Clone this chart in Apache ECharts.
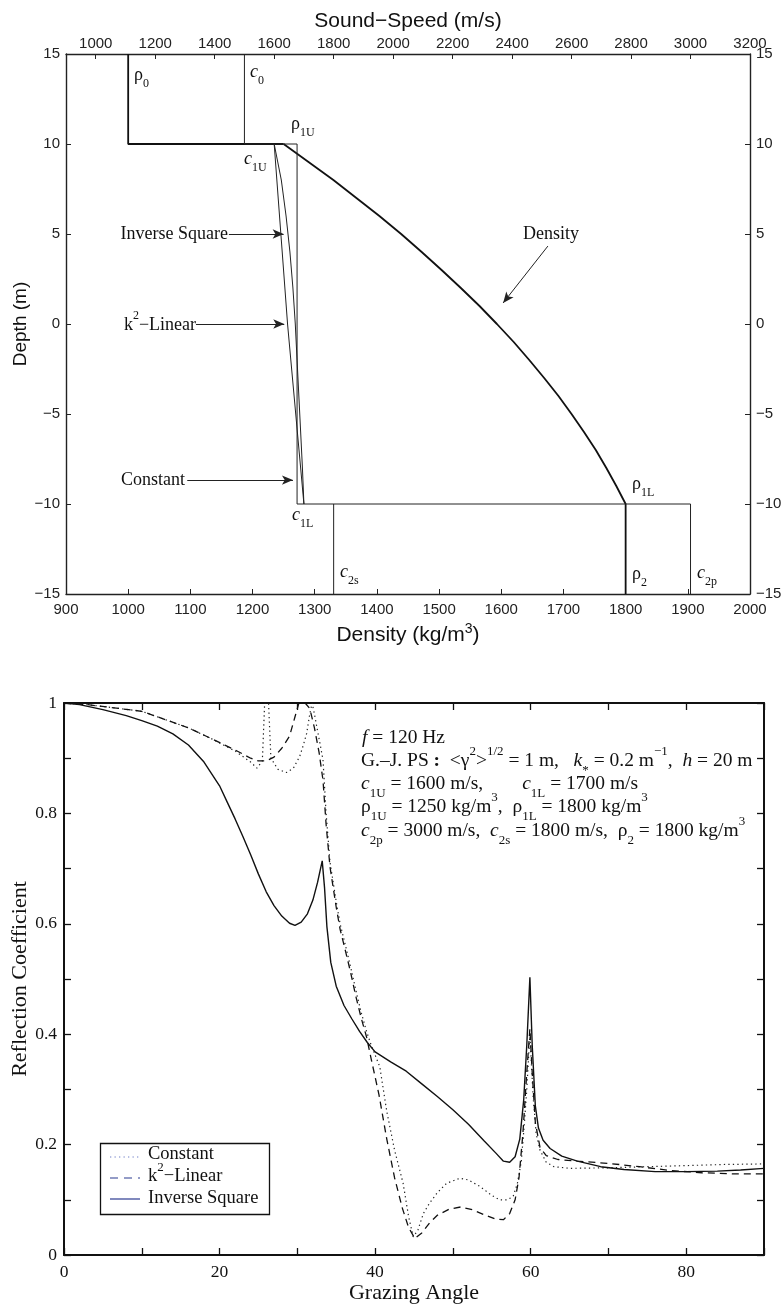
<!DOCTYPE html>
<html><head><meta charset="utf-8">
<script src="https://cdn.jsdelivr.net/npm/echarts@6/dist/echarts.min.js"></script>
<style>html,body{margin:0;padding:0;background:#fff}#c{width:782px;height:1305px}</style>
</head><body><div id="c"></div>
<script>
// ===== Top panel: profiles =====
const soundSpeedTicks = [1000,1200,1400,1600,1800,2000,2200,2400,2600,2800,3000,3200];

const densityStepDepth = [15,10,10];
const densityStepValue = [1000,1000,1250];
const densityCurveDepth = [10,9,8,7,6,5,4,3,2,1,0,-1,-2,-3,-4,-5,-6,-7,-8,-9,-10,-15];
const densityCurveValue = [1250,1290,1330,1367,1404,1439,1472,1504,1535,1565,1593,1620,1645,1669,1692,1713,1733,1752,1769,1785,1800,1800];

const c0Depth = [15,10,10];
const c0Speed = [1500,1500,1677];
const constantDepth = [10,-10,-10];
const constantSpeed = [1677,1677,3000];
const c2pDepth = [-10,-15];
const c2pSpeed = [3000,3000];
const c2sDepth = [-10,-15];
const c2sSpeed = [1800,1800];

const profileDepth = [10,8,6,4,2,0,-2,-4,-6,-8,-10];
const k2LinearSpeed = [1600,1609,1618,1627,1636,1645,1656,1667,1678,1689,1700];
const inverseSquareSpeed = [1600,1624,1640,1653,1663,1671,1677,1683,1689,1695,1700];

// ===== Bottom panel: reflection coefficient =====
const constAngle = [0,3,6,10,13,16,19,22,24,24.8,25.5,25.8,26.3,26.6,27.5,28.6,29.5,30.3,30.8,31.2,31.6,31.9,32.2,32.5,33,33.3,33.7,34.2,35,35.5,36.2,36.8,37.6,38.2,38.9,39.5,40.6,41.5,42.5,43.6,44.3,44.9,45.5,46.2,47,48,49.2,50.9,52,53.5,55,56,57,57.75,58.3,58.8,59.2,59.5,59.9,60.3,60.7,61.2,62,63,65,70,75,80,85,90];
const constR = [1.0,0.997,0.992,0.985,0.97,0.955,0.935,0.913,0.893,0.882,0.895,1.0,1.0,0.9,0.88,0.874,0.882,0.903,0.925,0.945,0.98,1.0,0.98,0.957,0.92,0.897,0.8,0.712,0.64,0.6,0.56,0.525,0.475,0.44,0.405,0.38,0.341,0.26,0.19,0.13,0.07,0.033,0.045,0.075,0.094,0.113,0.13,0.139,0.136,0.124,0.108,0.1,0.1,0.106,0.13,0.17,0.24,0.3,0.4,0.29,0.22,0.19,0.168,0.16,0.157,0.158,0.16,0.162,0.164,0.165];

const k2Angle = [0,3,6,10,13,16,19,22,24,25,26,27,28,29,29.7,30.2,31,31.6,32.2,32.8,33.3,33.7,34.2,35,35.5,36.2,36.8,37.5,38.2,38.9,39.5,40.5,41.5,42.5,43.5,44.3,45.1,46,47,48,49.5,51,52.5,54,55.5,56.5,57.3,58,58.5,59,59.5,59.9,60.2,60.6,61.2,62,63.5,66,70,74,78,82,86,90];
const k2R = [1.0,0.997,0.992,0.985,0.97,0.955,0.935,0.915,0.9,0.895,0.895,0.902,0.918,0.94,0.975,1.0,1.0,0.99,0.955,0.91,0.86,0.78,0.703,0.63,0.59,0.55,0.515,0.47,0.43,0.395,0.355,0.29,0.21,0.14,0.085,0.05,0.03,0.04,0.058,0.072,0.083,0.087,0.082,0.073,0.065,0.064,0.075,0.1,0.14,0.22,0.33,0.41,0.33,0.24,0.195,0.18,0.173,0.17,0.166,0.16,0.153,0.149,0.147,0.147];

const invAngle = [0,2,5,8,10,12,14,16,18,20,21,22,23,24,25,26,27,28,29,29.7,30.5,31.3,32,32.6,33.2,33.5,33.8,34.3,35,36,37,38,39,40,42,44,46,48,50,52,54,55.5,56.5,57.3,58,58.6,59.1,59.5,59.9,60.2,60.6,61,61.6,62.5,64,66,69,72,76,80,84,87,90];
const invR = [1.0,0.997,0.988,0.977,0.968,0.958,0.944,0.924,0.893,0.85,0.82,0.79,0.758,0.725,0.69,0.658,0.633,0.614,0.601,0.597,0.603,0.618,0.643,0.675,0.714,0.665,0.595,0.53,0.487,0.452,0.428,0.405,0.385,0.368,0.35,0.333,0.31,0.287,0.263,0.237,0.207,0.185,0.17,0.168,0.178,0.21,0.28,0.38,0.503,0.38,0.27,0.23,0.208,0.193,0.179,0.17,0.16,0.155,0.151,0.151,0.152,0.154,0.157];

const SANS = '"Liberation Sans", Arial, Helvetica, sans-serif';
const SERIF = '"Liberation Serif", "Times New Roman", serif';
const INK = '#111';
const zip = (xs, ys) => xs.map((x, i) => [x, ys[i]]);
const plain = v => String(v).replace('-', '\u2212');

const rich = (fs) => {
  const sfs = Math.round(fs * 0.68);
  return {
    i: {fontStyle: 'italic', fontFamily: SERIF, fontSize: fs, lineHeight: fs + 12, fill: INK},
    b: {fontWeight: 'bold', fontFamily: SERIF, fontSize: fs, lineHeight: fs + 12, fill: INK},
    sup: {fontFamily: SERIF, fontSize: sfs, lineHeight: fs + 4, verticalAlign: 'top', fill: INK},
    sub: {fontFamily: SERIF, fontSize: sfs, lineHeight: sfs + 2, verticalAlign: 'bottom', fill: INK}
  };
};
function txt(x, y, text, fs, align) {
  return {type: 'text', x: x, y: y, silent: true,
    style: {text: text, fontFamily: SERIF, fontSize: fs, lineHeight: fs + 12, fill: INK,
      align: align || 'left', textAlign: align || 'left', verticalAlign: 'middle', textVerticalAlign: 'middle', rich: rich(fs)}};
}

const topAxisCommon = {
  type: 'value', gridIndex: 0,
  axisLine: {show: true, onZero: false, lineStyle: {color: '#222', width: 1.4}},
  axisTick: {show: true, inside: true, length: 5, lineStyle: {color: '#222', width: 1}},
  axisLabel: {fontFamily: SANS, fontSize: 15, color: '#222', formatter: plain},
  splitLine: {show: false}
};
const botAxisCommon = {
  type: 'value', gridIndex: 1,
  axisLine: {show: true, onZero: false, lineStyle: {color: '#111', width: 2}},
  axisTick: {show: true, inside: true, length: 7, lineStyle: {color: '#111', width: 1.3}},
  axisLabel: {fontFamily: SERIF, fontSize: 17.5, color: '#111'},
  splitLine: {show: false}
};

const thin = {color: '#222', width: 1};

const option = {
  animation: false,
  backgroundColor: '#fff',
  grid: [
    {left: 66, top: 54, width: 684, height: 540, containLabel: false, outerBoundsMode: 'none'},
    {left: 64, top: 703, width: 700, height: 552, containLabel: false, outerBoundsMode: 'none'}
  ],
  xAxis: [
    Object.assign({}, topAxisCommon, {position: 'bottom', min: 900, max: 2000, interval: 100,
      axisLabel: Object.assign({}, topAxisCommon.axisLabel, {margin: 8}),
      name: '{n|Density (kg/m}{s|3}{n|)}', nameLocation: 'middle', nameGap: 28,
      nameTextStyle: {rich: {n: {fontFamily: SANS, fontSize: 21, color: '#111', lineHeight: 26}, s: {fontFamily: SANS, fontSize: 14, color: '#111', lineHeight: 14, verticalAlign: 'top'}}}}),
    Object.assign({}, topAxisCommon, {position: 'top', min: 900, max: 3200,
      axisLabel: Object.assign({}, topAxisCommon.axisLabel, {margin: 3, customValues: soundSpeedTicks}),
      axisTick: Object.assign({}, topAxisCommon.axisTick, {customValues: soundSpeedTicks}),
      name: 'Sound\u2212Speed (m/s)', nameLocation: 'middle', nameGap: 22,
      nameTextStyle: {fontFamily: SANS, fontSize: 21, color: '#111'}}),
    Object.assign({}, botAxisCommon, {position: 'bottom', min: 0, max: 90, interval: 10,
      axisLabel: Object.assign({}, botAxisCommon.axisLabel, {margin: 8, formatter: v => (v % 20 === 0 ? String(v) : '')}),
      name: 'Grazing Angle', nameLocation: 'middle', nameGap: 24,
      nameTextStyle: {fontFamily: SERIF, fontSize: 22, color: '#111'}}),
    Object.assign({}, botAxisCommon, {position: 'top', min: 0, max: 90, interval: 10, axisLabel: {show: false}})
  ],
  yAxis: [
    Object.assign({}, topAxisCommon, {position: 'left', min: -15, max: 15, interval: 5,
      axisLabel: Object.assign({}, topAxisCommon.axisLabel, {margin: 6}),
      name: 'Depth (m)', nameLocation: 'middle', nameGap: 36, nameRotate: 90, nameMoveOverlap: false,
      nameTextStyle: {fontFamily: SANS, fontSize: 19, color: '#111'}}),
    Object.assign({}, topAxisCommon, {position: 'right', min: -15, max: 15, interval: 5,
      axisLabel: Object.assign({}, topAxisCommon.axisLabel, {margin: 6})}),
    Object.assign({}, botAxisCommon, {position: 'left', min: 0, max: 1, interval: 0.1,
      axisLabel: Object.assign({}, botAxisCommon.axisLabel, {margin: 7, formatter: v => {
        const k = Math.round(v * 10);
        if (k % 2 !== 0) return '';
        return k === 0 ? '0' : (k === 10 ? '1' : (k / 10).toFixed(1));
      }}),
      name: 'Reflection Coefficient', nameLocation: 'middle', nameGap: 33, nameRotate: 90, nameMoveOverlap: false,
      nameTextStyle: {fontFamily: SERIF, fontSize: 22, color: '#111'}}),
    Object.assign({}, botAxisCommon, {position: 'right', min: 0, max: 1, interval: 0.1, axisLabel: {show: false}})
  ],
  series: [
    {name: 'Density step', type: 'line', xAxisIndex: 0, yAxisIndex: 0, symbol: 'none',
      data: zip(densityStepValue, densityStepDepth), lineStyle: {color: INK, width: 1.8}},
    {name: 'Density', type: 'line', xAxisIndex: 0, yAxisIndex: 0, symbol: 'none',
      data: zip(densityCurveValue, densityCurveDepth), lineStyle: {color: INK, width: 1.8},
      markLine: {silent: true, symbol: ['none', 'arrow'], symbolSize: [7, 11], animation: false,
        label: {show: false}, lineStyle: {type: 'solid', color: '#222', width: 1},
        data: [
          [{coord: [1162, 5]}, {coord: [1250, 5]}],
          [{coord: [1109, 0]}, {coord: [1251, 0]}],
          [{coord: [1095, -8.67]}, {coord: [1265, -8.67]}],
          [{coord: [1675, 4.33]}, {coord: [1603, 1.17]}]
        ]}},
    {name: 'c0', type: 'line', xAxisIndex: 1, yAxisIndex: 0, symbol: 'none', data: zip(c0Speed, c0Depth), lineStyle: thin},
    {name: 'Constant profile', type: 'line', xAxisIndex: 1, yAxisIndex: 0, symbol: 'none', data: zip(constantSpeed, constantDepth), lineStyle: thin},
    {name: 'c2p', type: 'line', xAxisIndex: 1, yAxisIndex: 0, symbol: 'none', data: zip(c2pSpeed, c2pDepth), lineStyle: thin},
    {name: 'c2s', type: 'line', xAxisIndex: 1, yAxisIndex: 0, symbol: 'none', data: zip(c2sSpeed, c2sDepth), lineStyle: thin},
    {name: 'k2 profile', type: 'line', xAxisIndex: 1, yAxisIndex: 0, symbol: 'none', data: zip(k2LinearSpeed, profileDepth), lineStyle: thin},
    {name: 'Inverse profile', type: 'line', xAxisIndex: 1, yAxisIndex: 0, symbol: 'none', data: zip(inverseSquareSpeed, profileDepth), lineStyle: thin},

    {name: 'Constant', type: 'line', xAxisIndex: 2, yAxisIndex: 2, symbol: 'none', data: zip(constAngle, constR),
      lineStyle: {color: '#222', width: 1.2, type: [1.3, 3.2]}},
    {name: 'k2-Linear', type: 'line', xAxisIndex: 2, yAxisIndex: 2, symbol: 'none', data: zip(k2Angle, k2R),
      lineStyle: {color: '#111', width: 1.3, type: [7, 5]}},
    {name: 'Inverse Square', type: 'line', xAxisIndex: 2, yAxisIndex: 2, symbol: 'none', data: zip(invAngle, invR),
      lineStyle: {color: '#111', width: 1.4}}
  ],
  graphic: {elements: [
    // top panel labels
    txt(134, 75, '\u03c1{sub|0}', 18),
    txt(250, 72, '{i|c}{sub|0}', 18),
    txt(291, 124, '\u03c1{sub|1U}', 18),
    txt(244, 159, '{i|c}{sub|1U}', 18),
    txt(228, 234, 'Inverse Square', 18, 'right'),
    txt(196, 325, 'k{sup|2}\u2212Linear', 18, 'right'),
    txt(185, 480, 'Constant', 18, 'right'),
    txt(523, 234, 'Density', 18),
    txt(292, 515, '{i|c}{sub|1L}', 18),
    txt(340, 572, '{i|c}{sub|2s}', 18),
    txt(632, 484, '\u03c1{sub|1L}', 18),
    txt(632, 574, '\u03c1{sub|2}', 18),
    txt(697, 573, '{i|c}{sub|2p}', 18),
    // bottom annotation block
    txt(362, 738, '{i|f} = 120 Hz', 19.5),
    txt(361, 761, 'G.\u2013J. PS {b|:}  <\u03b3{sup|2}>{sup|1/2} = 1 m,   {i|k}{sub|*} = 0.2 m{sup|\u22121},  {i|h} = 20 m', 19.5),
    txt(361, 784, '{i|c}{sub|1U} = 1600 m/s,        {i|c}{sub|1L} = 1700 m/s', 19.5),
    txt(361, 807, '\u03c1{sub|1U} = 1250 kg/m{sup|3},  \u03c1{sub|1L} = 1800 kg/m{sup|3}', 19.5),
    txt(361, 831, '{i|c}{sub|2p} = 3000 m/s,  {i|c}{sub|2s} = 1800 m/s,  \u03c1{sub|2} = 1800 kg/m{sup|3}', 19.5),
    // legend
    {type: 'rect', shape: {x: 100.5, y: 1143.5, width: 169, height: 71}, style: {fill: '#fff', stroke: '#111', lineWidth: 1.3}, silent: true},
    {type: 'line', shape: {x1: 110, y1: 1157, x2: 140, y2: 1157}, style: {stroke: '#7080c8', lineWidth: 1.2, lineDash: [1.3, 3.2]}, silent: true},
    {type: 'line', shape: {x1: 110, y1: 1178, x2: 140, y2: 1178}, style: {stroke: '#2b3a90', lineWidth: 1.2, lineDash: [8, 6]}, silent: true},
    {type: 'line', shape: {x1: 110, y1: 1199, x2: 140, y2: 1199}, style: {stroke: '#2b3a90', lineWidth: 1.2}, silent: true},
    txt(148, 1154, 'Constant', 18.5),
    txt(148, 1176, 'k{sup|2}\u2212Linear', 18.5),
    txt(148, 1198, 'Inverse Square', 18.5)
  ]}
};

const chart = echarts.init(document.getElementById('c'), null, {renderer: 'canvas', width: 782, height: 1305});
chart.setOption(option);
</script>
</body></html>
